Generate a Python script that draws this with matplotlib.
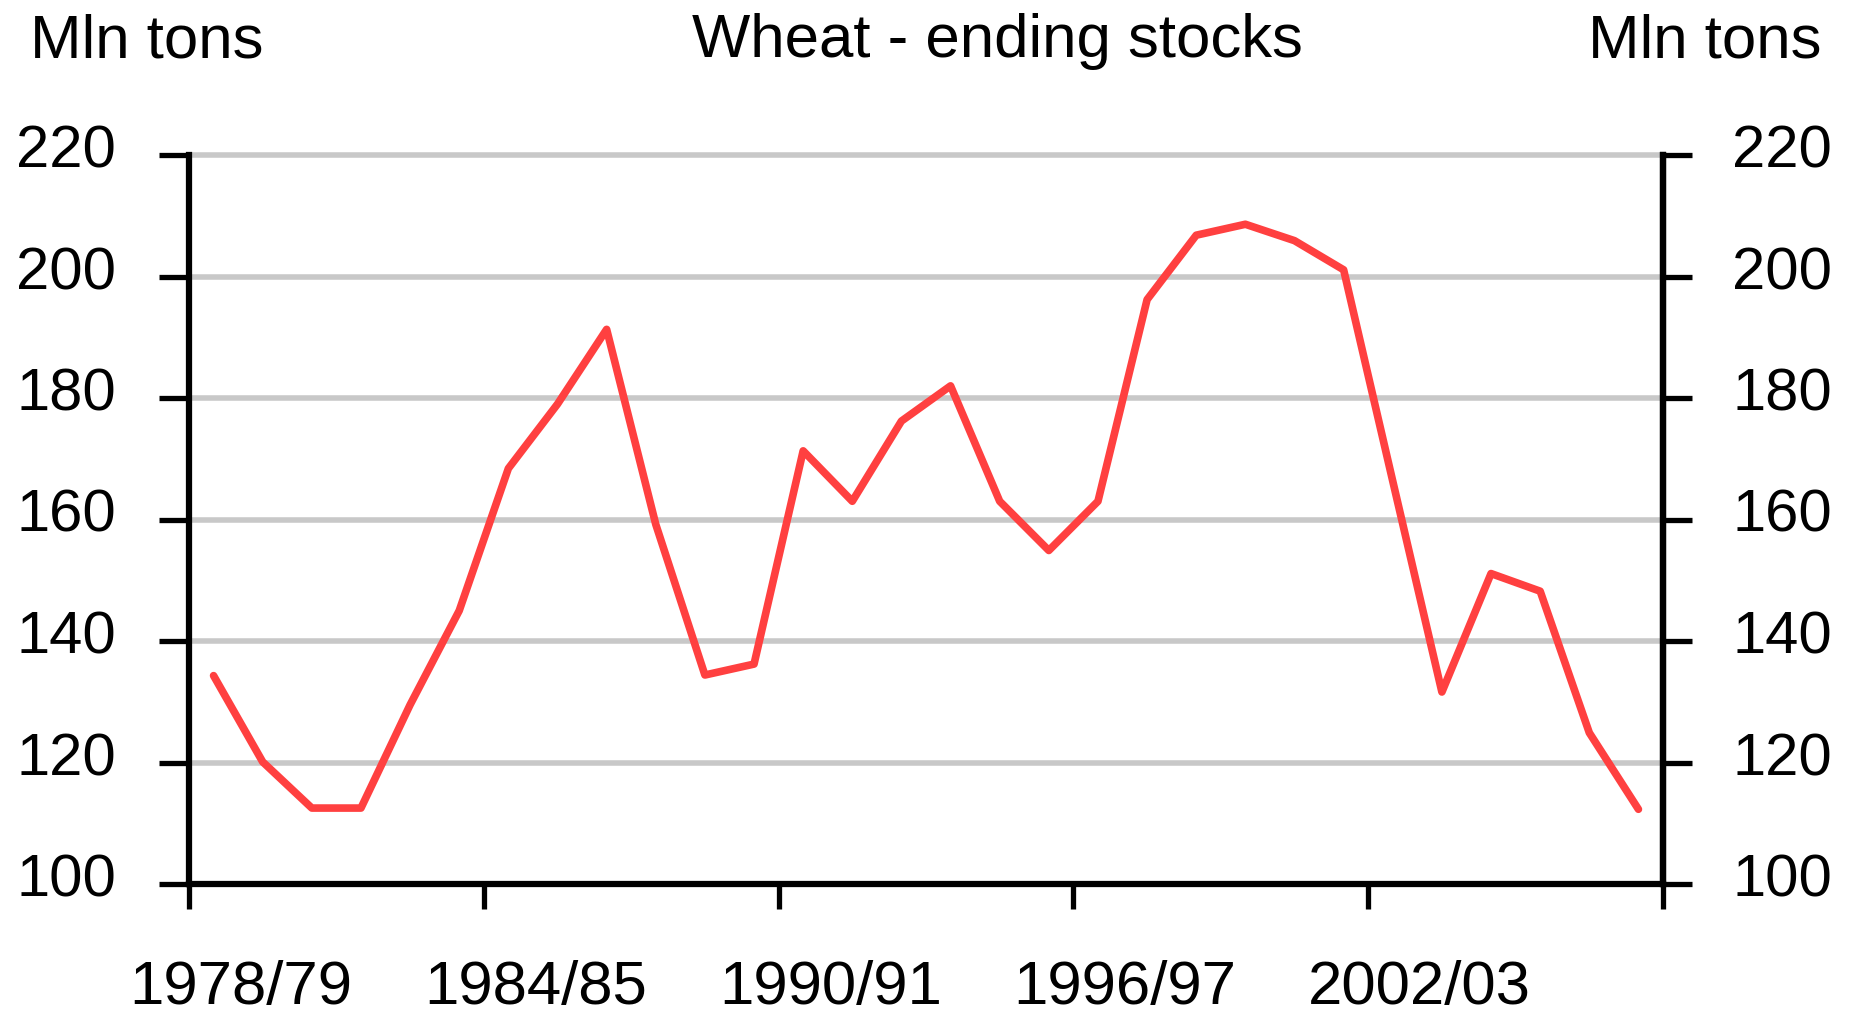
import matplotlib
matplotlib.use("Agg")
import matplotlib.pyplot as plt
import matplotlib.transforms as mtransforms
import numpy as np

plt.rcParams['font.family'] = ['Liberation Sans', 'DejaVu Sans']

# wheat ending stocks, crop years 1978/79 .. 2007/08 (mln tons)
years = [f"{y}/{str(y + 1)[-2:]}" for y in range(1978, 2008)]
stocks = [134.3, 120.1, 112.5, 112.5, 129.5, 145.0, 168.4, 179.0, 191.3, 159.2,
          134.4, 136.2, 171.3, 163.0, 176.2, 182.0, 163.0, 154.9, 163.0, 196.2,
          206.8, 208.6, 205.9, 201.1, 166.3, 131.6, 151.1, 148.2, 124.9, 112.3]
tick_labels = ["1978/79", "1984/85", "1990/91", "1996/97", "2002/03"]
yticks = [100, 120, 140, 160, 180, 200, 220]

W, H = 1854, 1018
fig = plt.figure(figsize=(W / 100, H / 100), dpi=100)
ax = fig.add_axes([189 / W, 1 - 884 / H, (1663 - 189) / W, (884 - 155) / H])

x = np.arange(len(stocks)) + 0.5
ax.plot(x, stocks, color='#FF4040', linewidth=5.5, solid_joinstyle='round',
        solid_capstyle='round', zorder=3)

ax.set_xlim(0, len(stocks))
ax.set_ylim(100, 220)
ax.set_yticks(yticks)
ax.grid(axis='y', color='#C8C8C8', linewidth=4, zorder=0)
ax.set_axisbelow(True)
# keep the top gridline at full thickness
for gl in ax.get_ygridlines():
    gl.set_clip_on(False)

for side in ['left', 'right', 'bottom']:
    ax.spines[side].set_linewidth(4.5)
    ax.spines[side].set_color('black')
ax.spines['top'].set_visible(False)

# right-hand duplicate axis
ax2 = ax.twinx()
ax2.set_ylim(100, 220)
ax2.set_yticks(yticks)
for side in ['left', 'top', 'bottom']:
    ax2.spines[side].set_visible(False)
ax2.spines['right'].set_linewidth(4.5)

ax.tick_params(axis='y', direction='out', length=21.5, width=3.8, pad=31,
               labelsize=43)
ax2.tick_params(axis='y', direction='out', length=21, width=3.8, pad=29,
                labelsize=43)

# x ticks on category boundaries every 6 years, labels shifted right
ax.set_xticks(np.arange(0, len(stocks) + 1, 6))
ax.set_xticklabels([])
ax.tick_params(axis='x', direction='out', length=18, width=3.8)
for i, lab in enumerate(tick_labels):
    ax.text(i * 6 + 1.05, -(1004 - 884) / 729, lab,
            transform=ax.get_xaxis_transform(),
            ha='center', va='baseline', fontsize=44.5)

# nudge y tick labels up a little, like the original
offset = mtransforms.ScaledTranslation(0, 9 / 100, fig.dpi_scale_trans)
for lab in ax.get_yticklabels() + ax2.get_yticklabels():
    lab.set_transform(lab.get_transform() + offset)

fig.text(30 / W, 1 - 57 / H, "Mln tons", ha='left', va='baseline', fontsize=44.5)
fig.text(1822 / W, 1 - 57 / H, "Mln tons", ha='right', va='baseline', fontsize=44.5)
fig.text(997 / W, 1 - 57 / H, "Wheat - ending stocks", ha='center',
         va='baseline', fontsize=44.5)

fig.savefig("out.png", dpi=100)
